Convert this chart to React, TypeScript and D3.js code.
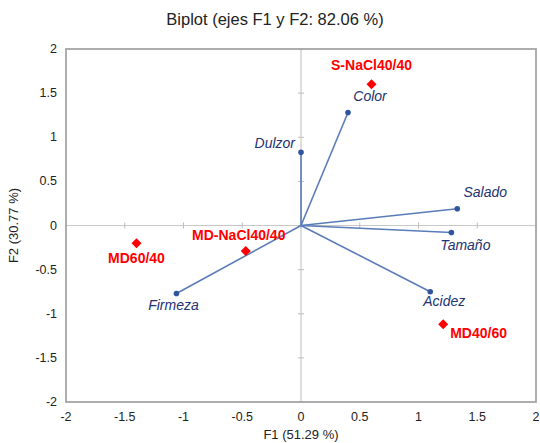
import React from 'react';
import * as d3 from 'd3';

// variables (blue vectors)
const varNames = ['Color', 'Dulzor', 'Salado', 'Tamaño', 'Acidez', 'Firmeza'];
const varF1 = [0.4, 0.0, 1.33, 1.28, 1.1, -1.06];
const varF2 = [1.28, 0.83, 0.19, -0.08, -0.75, -0.77];

// observations (red diamonds)
const obsNames = ['S-NaCl40/40', 'MD60/40', 'MD-NaCl40/40', 'MD40/60'];
const obsF1 = [0.6, -1.4, -0.47, 1.21];
const obsF2 = [1.6, -0.2, -0.29, -1.12];

const ticks = [-2, -1.5, -1, -0.5, 0, 0.5, 1, 1.5, 2];

// label offsets [dx, dy, anchor]
const varLabelPos: [number, number, string][] = [
  [22, -12, 'middle'],
  [-6, -4, 'end'],
  [28, -12, 'middle'],
  [14, 17, 'middle'],
  [14, 14, 'middle'],
  [-3, 17, 'middle'],
];
const obsLabelPos: [number, number, string][] = [
  [0, -14, 'middle'],
  [0, 20, 'middle'],
  [-7, -11, 'middle'],
  [7, 14, 'start'],
];

const W = 540;
const H = 443;

export default function App() {
  const x = d3.scaleLinear().domain([-2, 2]).range([66, 536]);
  const y = d3.scaleLinear().domain([-2, 2]).range([402, 49]);
  const font = '"Liberation Sans", Arial, sans-serif';
  const diamond = d3.symbol().type(d3.symbolDiamond2).size(64)();

  return (
    <svg
      width={W}
      height={H}
      style={{ position: 'absolute', left: 0, top: 0, background: '#fff' }}
      fontFamily={font}
    >
      <text x={275} y={25} textAnchor="middle" fontSize={16.5} fill="#222">
        Biplot (ejes F1 y F2: 82.06 %)
      </text>

      {/* zero lines */}
      <line x1={x(-2)} x2={x(2)} y1={y(0)} y2={y(0)} stroke="#c8c8c8" strokeWidth={1.2} />
      <line x1={x(0)} x2={x(0)} y1={y(-2)} y2={y(2)} stroke="#c8c8c8" strokeWidth={1.2} />
      {ticks.map((t) => (
        <g key={'t' + t}>
          <line x1={x(t)} x2={x(t)} y1={y(0) - 3} y2={y(0) + 3} stroke="#bdbdbd" />
          <line x1={x(0) - 3} x2={x(0) + 3} y1={y(t)} y2={y(t)} stroke="#bdbdbd" />
        </g>
      ))}

      {/* frame */}
      <rect
        x={x(-2)}
        y={y(2)}
        width={x(2) - x(-2)}
        height={y(-2) - y(2)}
        fill="none"
        stroke="#a6a6a6"
        strokeWidth={1.8}
      />

      {/* tick labels */}
      {ticks.map((t) => (
        <text
          key={'xl' + t}
          x={x(t)}
          y={y(-2) + 19}
          textAnchor="middle"
          fontSize={12.5}
          fill="#222"
        >
          {t}
        </text>
      ))}
      {ticks.map((t) => (
        <text
          key={'yl' + t}
          x={x(-2) - 9}
          y={y(t) + 4}
          textAnchor="end"
          fontSize={12.5}
          fill="#222"
        >
          {t}
        </text>
      ))}

      <text x={x(0)} y={439} textAnchor="middle" fontSize={13} fill="#222">
        F1 (51.29 %)
      </text>
      <text
        transform={`translate(18,${y(0)}) rotate(-90)`}
        textAnchor="middle"
        fontSize={13}
        fill="#222"
      >
        F2 (30.77 %)
      </text>

      {/* vectors */}
      {varNames.map((n, i) => (
        <g key={n}>
          <line
            x1={x(0)}
            y1={y(0)}
            x2={x(varF1[i])}
            y2={y(varF2[i])}
            stroke="#5a7cb8"
            strokeWidth={1.6}
          />
          <circle cx={x(varF1[i])} cy={y(varF2[i])} r={2.8} fill="#2f559c" />
          <text
            x={x(varF1[i]) + varLabelPos[i][0]}
            y={y(varF2[i]) + varLabelPos[i][1]}
            textAnchor={varLabelPos[i][2] as any}
            fontSize={14}
            fontStyle="italic"
            fill="#233272"
          >
            {n}
          </text>
        </g>
      ))}

      {/* observations */}
      {obsNames.map((n, i) => (
        <g key={n}>
          <path
            d={diamond || ''}
            transform={`translate(${x(obsF1[i])},${y(obsF2[i])})`}
            fill="#ff0000"
          />
          <text
            x={x(obsF1[i]) + obsLabelPos[i][0]}
            y={y(obsF2[i]) + obsLabelPos[i][1]}
            textAnchor={obsLabelPos[i][2] as any}
            fontSize={14}
            fontWeight="bold"
            fill="#ff0000"
          >
            {n}
          </text>
        </g>
      ))}
    </svg>
  );
}
